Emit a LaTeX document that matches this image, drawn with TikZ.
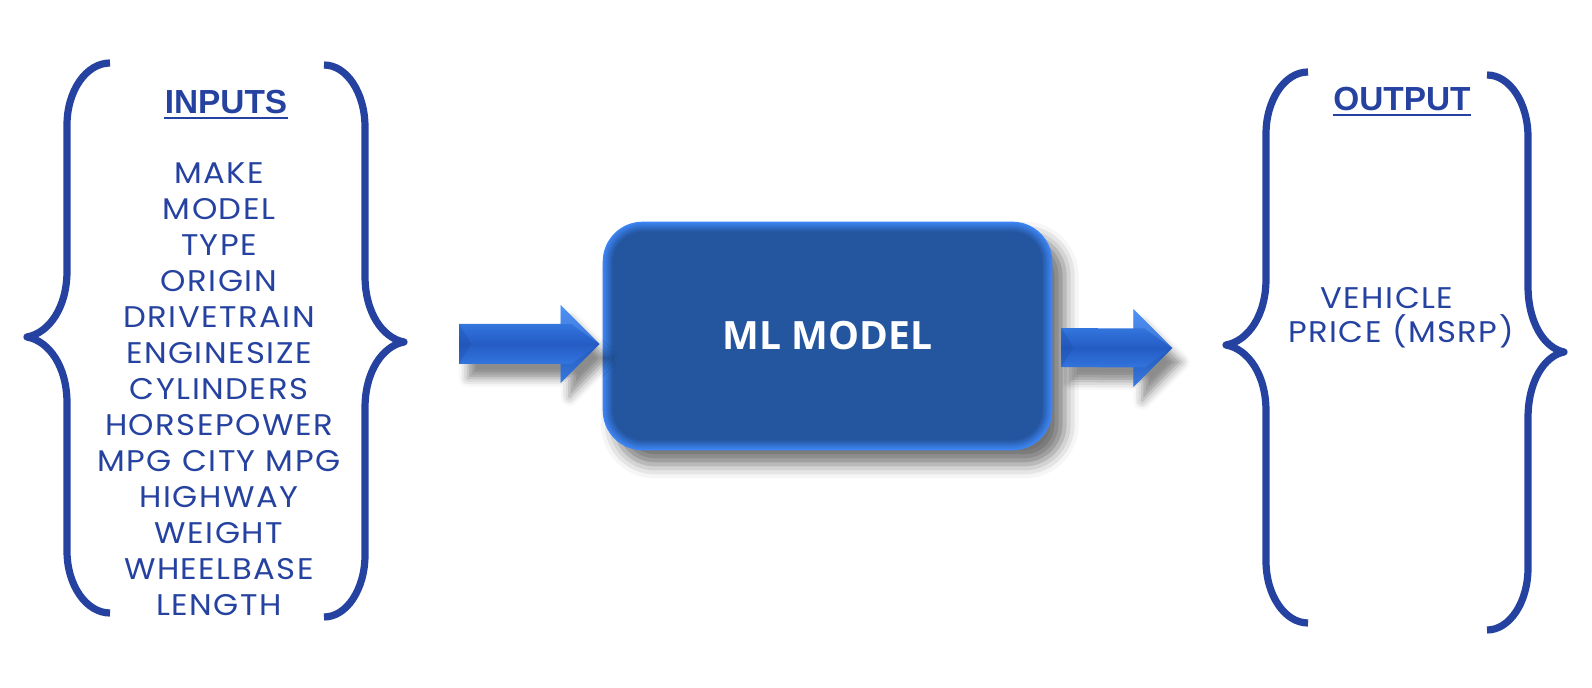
\documentclass[tikz,border=0pt]{standalone}
\usepackage{fontspec}
\setmainfont{Poppins}[FakeStretch=1.08,LetterSpace=5]
\newfontfamily\hdrfont{Liberation Sans}
\newfontfamily\mlfont{Open Sans}
\usetikzlibrary{calc,shadows.blur}
\definecolor{bblue}{RGB}{38,66,160}
\definecolor{boxdark}{RGB}{36,86,160}
\definecolor{boxlight}{RGB}{62,134,245}
\definecolor{arlight}{RGB}{66,140,246}
\definecolor{ardark}{RGB}{36,92,196}
\tikzset{
  brace/.style={draw=bblue,line width=4.1pt,line cap=butt,line join=round},
  item/.style={text=bblue,font=\fontsize{17pt}{20pt}\selectfont,inner sep=0pt,anchor=base},
  hdr/.style={text=bblue,font=\hdrfont\bfseries\fontsize{19pt}{22pt}\selectfont,inner sep=0pt,anchor=base},
  mlbox/.style={minimum width=8.98cm,minimum height=4.56cm,inner sep=0pt,text=white,
     font=\mlfont\bfseries\fontsize{22.2pt}{24pt}\selectfont},
  arshadow/.style={blur shadow={shadow xshift=5pt,shadow yshift=-8pt,shadow blur radius=5pt,shadow opacity=45}},
}
% opening brace: #1 end x, #2 vertical x, #3 tip x, #4 top y, #5 tip y, #6 bottom y
\newcommand\obrace[6]{%
  \draw[brace] (#1,#4) .. controls ({#1-0.552*(#1-#2)},#4) and (#2,{#4+62-0.552*62}) .. (#2,{#4+62})
    -- (#2,{#5-66}) .. controls (#2,{#5-66+0.552*66}) and ({#3+0.552*(#2-#3)},{#5-4}) .. (#3,#5)
    .. controls ({#3+0.552*(#2-#3)},{#5+4}) and (#2,{#5+66-0.552*66}) .. (#2,{#5+66})
    -- (#2,{#6-62}) .. controls (#2,{#6-62+0.552*62}) and ({#1-0.552*(#1-#2)},#6) .. (#1,#6);}
% bevelled arrow: #1 start coordinate, #2 tip coordinate, #3 shaft half height, #4 head half height
\newcommand\bevarrow[4]{%
  \path[arshadow] ($(#1)+(0,-#3)$) -- ($(#2)+(-39,-#3)$) -- ($(#2)+(-39,-#4)$) -- (#2)
     -- ($(#2)+(-39,#4)$) -- ($(#2)+(-39,#3)$) -- ($(#1)+(0,#3)$) -- cycle;
  \shade[top color=arlight,bottom color=arlight,middle color=ardark]
     ($(#1)+(0,-#3)$) -- ($(#2)+(-39,-#3)$) -- ($(#2)+(-39,-#4)$) -- (#2)
     -- ($(#2)+(-39,#4)$) -- ($(#2)+(-39,#3)$) -- ($(#1)+(0,#3)$) -- cycle;
  \fill[ardark!85!black,opacity=.35] ($(#1)+(0,-#3)$) -- ($(#1)+(12,0)$) -- ($(#1)+(0,#3)$) -- cycle;
  \fill[arlight!80!white,opacity=.35] ($(#2)+(-39,-#4)$) -- (#2) -- ($(#2)+(-27,{-#4+20})$) -- ($(#2)+(-27,-#3)$) -- ($(#2)+(-39,-#3)$) -- cycle;
  \fill[ardark!80!black,opacity=.25] ($(#2)+(-39,#4)$) -- (#2) -- ($(#2)+(-27,{#4-20})$) -- ($(#2)+(-27,#3)$) -- ($(#2)+(-39,#3)$) -- cycle;
}
\begin{document}
\begin{tikzpicture}[x=0.02cm,y=-0.02cm]
\useasboundingbox (0,0) rectangle (1592,688);
% braces
\obrace{110}{67}{27}{63}{337}{613}
\obrace{324}{365}{404}{65}{342}{617}
\obrace{1308}{1266}{1226}{72}{345}{623}
\obrace{1487}{1528}{1564}{75}{352}{630}
% inputs
\node[hdr] (inhdr) at (226,114) {INPUTS};
\draw[bblue,line width=1.2pt] ($(inhdr.base west)+(0,4)$) -- ($(inhdr.base east)+(0,4)$);
\foreach \t [count=\i from 0] in {MAKE,MODEL,TYPE,ORIGIN,DRIVETRAIN,ENGINESIZE,CYLINDERS,HORSEPOWER,MPG CITY MPG,HIGHWAY,WEIGHT,WHEELBASE,LENGTH}
  \node[item] (in\i) at (219,{184+36*\i}) {\t};
% output
\node[hdr] (outhdr) at (1402,111) {OUTPUT};
\draw[bblue,line width=1.2pt] ($(outhdr.base west)+(0,4)$) -- ($(outhdr.base east)+(0,4)$);
\node[item] (out1) at (1387,309) {VEHICLE};
\node[item] (out2) at (1401,343) {PRICE (MSRP)};
% model box
\node[mlbox] (model) at (827.5,336) {};
\path[blur shadow={shadow xshift=7pt,shadow yshift=-8pt,shadow blur radius=8pt,shadow opacity=55},rounded corners=22.8pt]
  (model.south west) rectangle (model.north east);
\foreach \i in {0,...,10}{
  \pgfmathsetmacro\p{min(100,\i*10)}
  \colorlet{bx}{boxdark!\p!boxlight}
  \fill[bx,rounded corners={(40-\i)*0.569pt}] ($(model.south west)+(\i,-\i)$) rectangle ($(model.north east)+(-\i,\i)$);
}
\node[mlbox] at (model.center) {ML MODEL};
% arrows
\coordinate (a1s) at (459,344);
\coordinate (a1t) at ($(model.west)+(-3,8)$);
\coordinate (a2s) at ($(model.east)+(9,11.5)$);
\coordinate (a2t) at ($(model.east)+(120,12)$);
\bevarrow{a1s}{a1t}{20}{39}
\bevarrow{a2s}{a2t}{19.5}{39}
\end{tikzpicture}
\end{document}
